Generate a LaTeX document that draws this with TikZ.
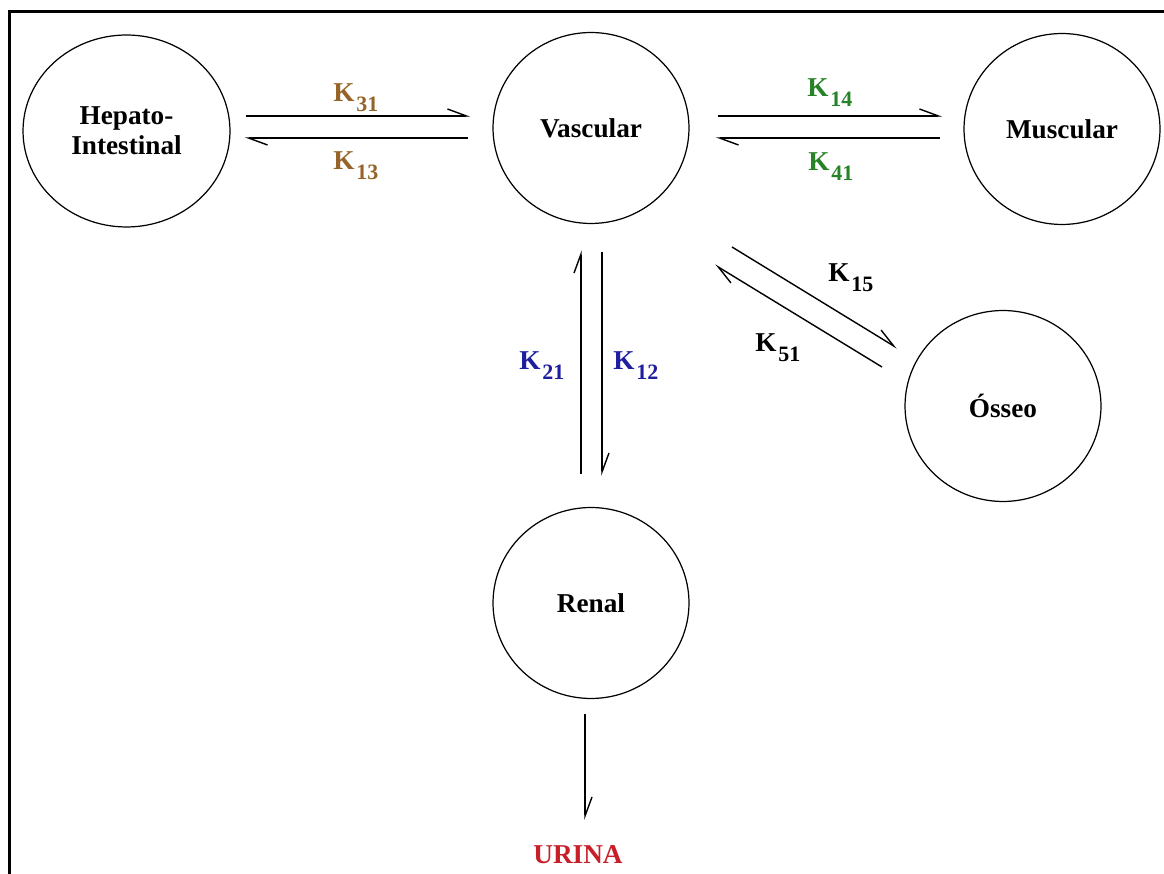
\documentclass[tikz,border=0pt]{standalone}
\usepackage{fontspec}
\setmainfont{Liberation Serif}
\usetikzlibrary{arrows.meta,calc,shapes.geometric}
\definecolor{kbrown}{RGB}{150,100,40}
\definecolor{kgreen}{RGB}{40,130,40}
\definecolor{kblue}{RGB}{30,30,160}
\definecolor{kred}{RGB}{200,30,40}
\newcommand{\kk}[1]{K\kern1pt\raisebox{-5.5pt}{\fontsize{12.5}{12.5}\selectfont #1}}
\begin{document}
\begin{tikzpicture}[x=0.02cm,y=-0.02cm,
  comp/.style={ellipse, draw, line width=0.7pt, minimum width=3.92cm, minimum height=3.82cm, inner sep=0pt, font=\fontsize{15.5}{17}\selectfont\bfseries, align=center},
  harp/.style={line width=0.8pt, -{Straight Barb[harpoon, length=0.38cm, width=0.28cm, line width=0.8pt]}},
  klab/.style={anchor=base west, font=\fontsize{15.5}{17}\selectfont\bfseries, inner sep=0pt}]
\useasboundingbox (0,0) rectangle (1164,874);
\draw[line width=0.06cm] (9.5,874) -- (9.5,11.5) -- (1164,11.5);
\node[comp, minimum width=4.14cm, minimum height=3.84cm] (hep) at (126.5,131) {Hepato-\\Intestinal};
\node[comp] (vas) at (591,128) {Vascular};
\node[comp] (mus) at (1062,129) {Muscular};
\node[comp] (oss) at (1003,406) {Ósseo};
\node[comp] (ren) at (591,603) {Renal};
\node[font=\fontsize{15.5}{17}\selectfont\bfseries, text=kred, inner sep=0pt] (uri) at (578,855) {URINA};
\draw[harp] ($(hep.east)+(15,-15)$) -- ($(vas.west)+(-22,-12)$);
\draw[harp] ($(vas.west)+(-24,10)$) -- ($(hep.east)+(14,7)$);
\draw[harp] ($(vas.east)+(28,-12)$) -- ($(mus.west)+(-21,-13)$);
\draw[harp] ($(mus.west)+(-23,9)$) -- ($(vas.east)+(26,10)$);
\draw[harp] ($(ren.north)+(-10,-33)$) -- ($(vas.south)+(-10,26)$);
\draw[harp] ($(vas.south)+(11,28)$) -- ($(ren.north)+(11,-31)$);
\draw[harp] ($(vas.center)+(141,119)$) -- ($(oss.center)+(-106,-58)$);
\draw[harp] ($(oss.center)+(-121,-39)$) -- ($(vas.center)+(124,137)$);
\draw[harp] ($(ren.south)+(-6,15)$) -- ($(uri.center)+(7,-35)$);
\node[klab, text=kbrown] (k31) at (333,102) {\kk{31}};
\node[klab, text=kbrown] (k13) at (333,170) {\kk{13}};
\node[klab, text=kgreen] (k14) at (807,97) {\kk{14}};
\node[klab, text=kgreen] (k41) at (808,171) {\kk{41}};
\node[klab, text=kblue] (k21) at (519,370) {\kk{21}};
\node[klab, text=kblue] (k12) at (613,370) {\kk{12}};
\node[klab] (k15) at (828,282) {\kk{15}};
\node[klab] (k51) at (755,352) {\kk{51}};
\end{tikzpicture}
\end{document}
